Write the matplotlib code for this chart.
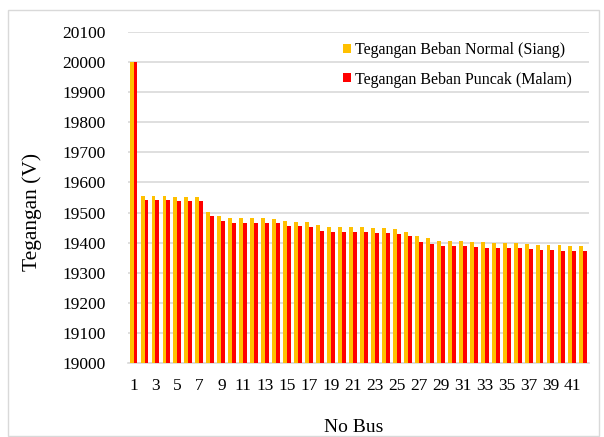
import numpy as np
import matplotlib
matplotlib.use('Agg')
import matplotlib.pyplot as plt
from matplotlib.patches import Rectangle

# data
Bus = list(range(1, 43))
Siang = [20000, 19556, 19556, 19556, 19553, 19552, 19552, 19501, 19489, 19481,
         19482, 19482, 19482, 19480, 19471, 19470, 19470, 19458, 19453, 19453,
         19452, 19452, 19450, 19450, 19446, 19437, 19421, 19414, 19406, 19405,
         19405, 19403, 19402, 19400, 19400, 19400, 19395, 19394, 19394, 19393,
         19390, 19390]
Malam = [20000, 19543, 19543, 19542, 19540, 19539, 19539, 19487, 19473, 19466,
         19466, 19466, 19466, 19464, 19455, 19454, 19451, 19440, 19437, 19436,
         19436, 19436, 19432, 19432, 19428, 19421, 19403, 19396, 19389, 19388,
         19388, 19385, 19384, 19384, 19381, 19381, 19378, 19377, 19375, 19374,
         19374, 19374]
YTicks = list(range(19000, 20101, 100))
XTickLabels = [str(b) if b % 2 == 1 else '' for b in Bus]

plt.rcParams['font.family'] = ['Liberation Serif', 'DejaVu Serif']

fig = plt.figure(figsize=(6.04, 4.37), dpi=100)
ax = fig.add_axes([0.212, 0.169, 0.763, 0.758])

# outer chart frame (like the Excel chart area)
fig.patches.append(Rectangle((8/604, 1/437), 591/604, 426/437, transform=fig.transFigure,
                             fill=False, edgecolor='#D9D9D9', linewidth=1.0))

X = np.array(Bus)
W = 0.36
ax.bar(X - W/2, np.array(Siang) - 19000, W, bottom=19000, color='#FFC000',
       label='Tegangan Beban Normal (Siang)', zorder=3)
ax.bar(X + W/2, np.array(Malam) - 19000, W, bottom=19000, color='#FF0000',
       label='Tegangan Beban Puncak (Malam)', zorder=3)

ax.set_xlim(0.5, 42.5)
ax.set_ylim(19000, 20100)
ax.set_yticks(YTicks)
ax.set_xticks(Bus)
ax.set_xticklabels(XTickLabels)
ax.tick_params(axis='both', length=0, labelsize=12.5)
ax.tick_params(axis='y', pad=16)
ax.tick_params(axis='x', pad=11)
ax.grid(axis='y', color='#D9D9D9', linewidth=1.2, zorder=0)
ax.set_axisbelow(True)
for s in ['top', 'right', 'left']:
    ax.spines[s].set_visible(False)
ax.spines['bottom'].set_color('#D9D9D9')
ax.spines['bottom'].set_linewidth(1.2)

ax.set_ylabel('Tegangan (V)', fontsize=15.5)
ax.yaxis.set_label_coords(-0.187, 0.455)
ax.set_xlabel('No Bus', fontsize=14)
ax.xaxis.set_label_coords(0.49, -0.168)

ax.legend(loc='upper left', bbox_to_anchor=(0.436, 1.013), frameon=False,
          fontsize=11.5, handlelength=0.5, handleheight=0.5, handletextpad=0.2,
          labelspacing=0.85)

plt.savefig('out.png', dpi=100)
plt.close()
